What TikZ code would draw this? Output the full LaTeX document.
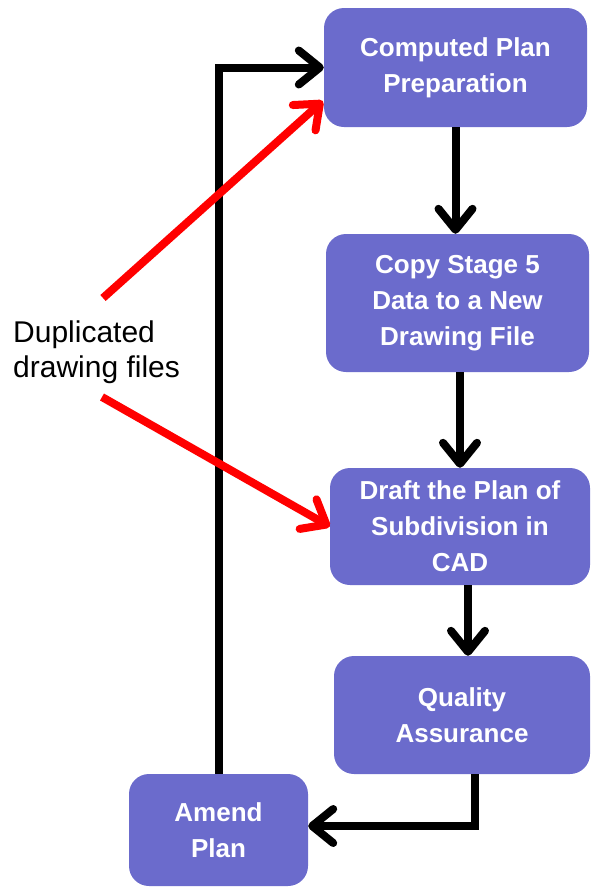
\documentclass[tikz,border=0pt]{standalone}
\usepackage{fontspec}
\setmainfont{Liberation Sans}
\usetikzlibrary{arrows.meta,positioning,calc}
\definecolor{stageblue}{RGB}{107,107,204}
\definecolor{dupred}{RGB}{255,0,0}

\begin{document}
\begin{tikzpicture}[x=1pt, y=-1pt,
    stage/.style={rectangle, rounded corners=20pt, fill=stageblue, text=white,
        font=\fontsize{26}{36}\selectfont\bfseries, align=center, inner sep=0pt},
    flow/.style={line width=8pt, -{Straight Barb[round,length=21pt,width=34pt]}},
    dupflow/.style={flow, draw=dupred}]
    \useasboundingbox (0,0) rectangle (592,887);
    \node [stage, minimum width=263pt, minimum height=119pt] (plan) at (455.5,67.5) {Computed Plan\\Preparation};
    \node [stage, minimum width=263pt, minimum height=138pt] (copy) at (457.5,303) {Copy Stage 5\\Data to a New\\Drawing File};
    \node [stage, minimum width=260pt, minimum height=117pt] (draft) at (460,526.5) {Draft the Plan of\\Subdivision in\\CAD};
    \node [stage, minimum width=256pt, minimum height=118pt] (qa) at (462,715) {Quality\\Assurance};
    \node [stage, minimum width=179pt, minimum height=112pt] (amend) at (218.5,830) {Amend\\Plan};
    \node [font=\fontsize{30}{35}\selectfont, align=left, anchor=north west, inner sep=0pt] (dup) at (13,321) {Duplicated\\drawing files};
    % main flow
    \draw [flow] (plan.south) -- (plan.south |- copy.north);
    \draw [flow] (draft.north |- copy.south) -- (draft.north);
    \draw [flow] ([xshift=6pt]qa.north |- draft.south) -- ([xshift=6pt]qa.north);
    \draw [flow] ([xshift=13pt]qa.south) |- ([yshift=4pt]amend.east);
    \draw [flow] (amend.north) |- (plan.west);
    % duplicated files
    \draw [dupflow] ($(dup.north west)+(90,-23)$) -- ($(plan.west)+(-1,33.5)$);
    \draw [dupflow] ($(dup.north west)+(89,76)$) -- (draft.west);
\end{tikzpicture}
\end{document}
